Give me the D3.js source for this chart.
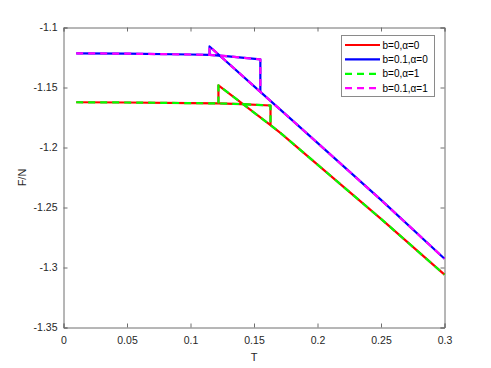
<!DOCTYPE html>
<html>
<head>
<meta charset="utf-8">
<script src="https://cdn.jsdelivr.net/npm/d3@7"></script>
<style>
  body { margin: 0; background: #fff; }
  svg { display: block; font-family: "Liberation Sans", Arial, sans-serif; }
</style>
</head>
<body>
<svg id="chart" width="491" height="368"></svg>
<script>
// ---- datos ----
var xTicks = [0, 0.05, 0.1, 0.15, 0.2, 0.25, 0.3];
var yTicks = [-1.35, -1.3, -1.25, -1.2, -1.15, -1.1];

// b = 0.1 : rama fria (casi plana) y rama caliente (diagonal)
var frioT_b01 = [0.01, 0.05, 0.1, 0.115, 0.13, 0.155];
var frioF_b01 = [-1.1215, -1.1218, -1.1225, -1.1228, -1.1240, -1.1266];
var calT_b01 = [0.115, 0.155, 0.18, 0.25, 0.3];
var calF_b01 = [-1.1158, -1.1537, -1.1772, -1.2437, -1.2927];

// b = 0
var frioT_b0 = [0.01, 0.05, 0.1, 0.122, 0.14, 0.163];
var frioF_b0 = [-1.1623, -1.1625, -1.1630, -1.1633, -1.1638, -1.1650];
var calT_b0 = [0.122, 0.163, 0.171, 0.25, 0.3];
var calF_b0 = [-1.1482, -1.1814, -1.188, -1.2595, -1.306];

var nombres = ["b=0,\u03b1=0", "b=0.1,\u03b1=0", "b=0,\u03b1=1", "b=0.1,\u03b1=1"];
var colores = ["#ff0000", "#0000ff", "#00ff00", "#ff00ff"];
var punteado = [false, false, true, true];

var series = [
  { fT: frioT_b0, fF: frioF_b0, cT: calT_b0, cF: calF_b0 },
  { fT: frioT_b01, fF: frioF_b01, cT: calT_b01, cF: calF_b01 },
  { fT: frioT_b0, fF: frioF_b0, cT: calT_b0, cF: calF_b0 },
  { fT: frioT_b01, fF: frioF_b01, cT: calT_b01, cF: calF_b01 }
];

var svg = d3.select("#chart");
var mIzq = 63.5, mDer = 444.5, mArr = 27.5, mAba = 327.5;

var x = d3.scaleLinear().domain([0, 0.3]).range([mIzq, mDer]);
var y = d3.scaleLinear().domain([-1.35, -1.1]).range([mAba, mArr]);

var ejeColor = "#6e6e6e";
var fmt = function(d) { return String(d); };

// ejes abajo/izq con etiquetas, arriba/der solo marcas
var gx = svg.append("g").attr("transform", "translate(0," + mAba + ")")
  .call(d3.axisBottom(x).tickValues(xTicks).tickSize(-4).tickPadding(9).tickFormat(fmt));
var gy = svg.append("g").attr("transform", "translate(" + mIzq + ",0)")
  .call(d3.axisLeft(y).tickValues(yTicks).tickSize(-4).tickPadding(6).tickFormat(fmt));
var gt = svg.append("g").attr("transform", "translate(0," + mArr + ")")
  .call(d3.axisTop(x).tickValues(xTicks).tickSize(-4).tickFormat(""));
var gr = svg.append("g").attr("transform", "translate(" + mDer + ",0)")
  .call(d3.axisRight(y).tickValues(yTicks).tickSize(-4).tickFormat(""));

[gx, gy, gt, gr].forEach(function(g) {
  g.select(".domain").attr("stroke", ejeColor);
  g.selectAll(".tick line").attr("stroke", ejeColor);
  g.selectAll(".tick text").attr("fill", "#262626").style("font-size", "10.5px")
    .style("font-family", "Liberation Sans, Arial, sans-serif");
});

var linea = d3.line().x(function(d) { return x(d[0]); }).y(function(d) { return y(d[1]); });

series.forEach(function(s, i) {
  // rama fria + caida a la rama caliente
  var p1 = s.fT.map(function(t, k) { return [t, s.fF[k]]; });
  p1.push([s.cT[1], s.cF[1]]);
  // salto desde la rama fria + rama caliente
  var k0 = s.fT.indexOf(s.cT[0]);
  var p2 = [[s.fT[k0], s.fF[k0]]].concat(s.cT.map(function(t, k) { return [t, s.cF[k]]; }));
  [p1, p2].forEach(function(p) {
    svg.append("path")
      .datum(p)
      .attr("fill", "none")
      .attr("stroke", colores[i])
      .attr("stroke-width", 2.2)
      .attr("stroke-linejoin", "round")
      .attr("stroke-dasharray", punteado[i] ? "7,5" : null)
      .attr("d", linea);
  });
});

// leyenda
var ley = svg.append("g");
ley.append("rect")
  .attr("x", 341.5).attr("y", 35.5).attr("width", 93).attr("height", 61)
  .attr("fill", "#fff").attr("stroke", "#8a8a8a").attr("stroke-width", 1);
nombres.forEach(function(n, i) {
  var yy = 45 + i * 14.4;
  ley.append("line")
    .attr("x1", 345).attr("x2", 380).attr("y1", yy).attr("y2", yy)
    .attr("stroke", colores[i]).attr("stroke-width", 2.2)
    .attr("stroke-dasharray", punteado[i] ? "7,5" : null);
  ley.append("text")
    .attr("x", 382.5).attr("y", yy + 3.6)
    .style("font-size", "10px").attr("fill", "#000")
    .text(n);
});

// titulos de ejes
svg.append("text")
  .attr("x", (mIzq + mDer) / 2).attr("y", 361)
  .attr("text-anchor", "middle").style("font-size", "11px").attr("fill", "#262626")
  .text("T");
svg.append("text")
  .attr("transform", "translate(26," + ((mArr + mAba) / 2) + ") rotate(-90)")
  .attr("text-anchor", "middle").style("font-size", "11px").attr("fill", "#262626")
  .text("F/N");
</script>
</body>
</html>
